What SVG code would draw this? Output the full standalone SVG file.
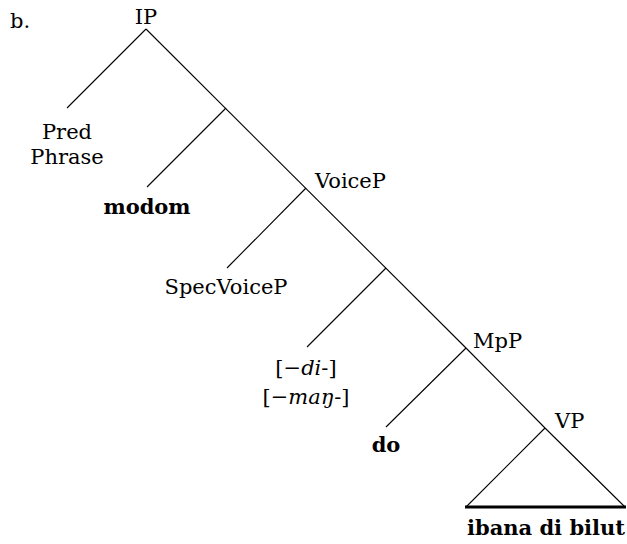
<svg xmlns="http://www.w3.org/2000/svg" width="627" height="544" viewBox="0 0 627 544">
<style>
text{font-family:"DejaVu Serif","Liberation Serif",serif;font-size:21px;fill:#000}
.c{text-anchor:middle}
.b{font-weight:bold}
.e line,.e path{stroke:#000;stroke-width:1.1;fill:none}
</style>
<rect width="627" height="544" fill="#fff"/>
<text x="10" y="28">b.</text>
<g id="connectors" class="e">
<line x1="146" y1="29" x2="67" y2="108"/>
<line x1="146" y1="29" x2="466" y2="348"/>
<line x1="226" y1="108" x2="147" y2="187"/>
<line x1="306" y1="188" x2="227" y2="268"/>
<line x1="386" y1="268" x2="307" y2="347"/>
<line x1="466" y1="348" x2="386" y2="427"/>
<line x1="466" y1="348" x2="545" y2="428"/>
<path d="M545 428 L466 507 M545 428 L625 507"/>
<line x1="465" y1="507" x2="626" y2="507" style="stroke-width:3"/>
</g>
<g id="IP"><text class="c" x="146" y="24">IP</text></g>
<g id="PredPhrase"><text class="c" x="67" y="139">Pred</text><text class="c" x="67" y="164">Phrase</text></g>
<g id="modom"><text class="c b" x="147" y="214">modom</text></g>
<g id="VoiceP"><text x="315" y="188">VoiceP</text></g>
<g id="SpecVoiceP"><text class="c" x="226" y="294">SpecVoiceP</text></g>
<g id="affixes"><text class="c" x="306" y="375">[−<tspan font-style="italic">di</tspan>-]</text><text class="c" x="306" y="404">[−<tspan font-style="italic">maŋ</tspan>-]</text></g>
<g id="MpP"><text x="473" y="348">MpP</text></g>
<g id="do"><text class="c b" x="386" y="452">do</text></g>
<g id="VP"><text x="555" y="428">VP</text></g>
<g id="ibana"><text class="c b" x="546" y="535">ibana di bilut</text></g>
</svg>
